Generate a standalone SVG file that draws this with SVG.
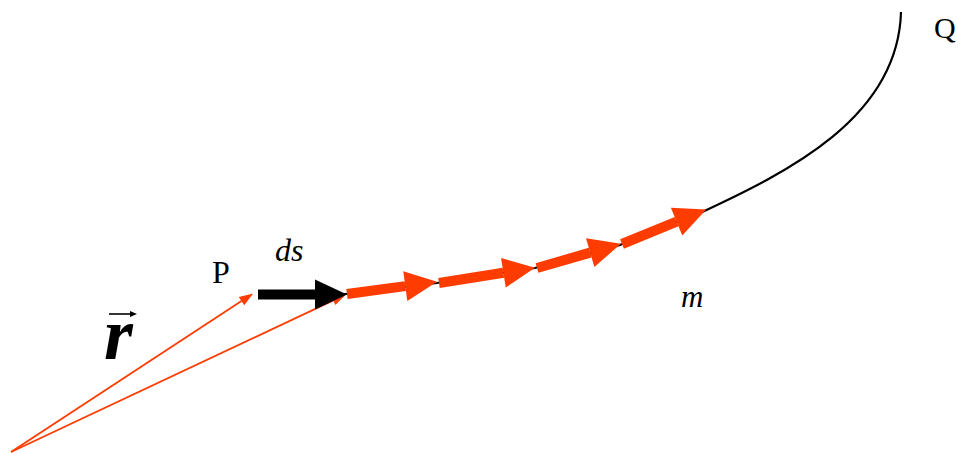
<svg xmlns="http://www.w3.org/2000/svg" width="958" height="453" viewBox="0 0 958 453">
<style>
.lbl{font-family:"Liberation Serif","Times New Roman",serif;fill:#000}
.it{font-style:italic}
.thick{stroke:#ff3c00;stroke-width:10;fill:none}
.thin{stroke:#ff3c00;stroke-width:1.8;fill:none}
</style>
<defs>
<marker id="bigRed" markerUnits="userSpaceOnUse" markerWidth="33" markerHeight="31" refX="0" refY="15" orient="auto" overflow="visible"><path d="M0,0 L32,15 L0,30 Z" fill="#ff3c00"/></marker>
<marker id="bigBlack" markerUnits="userSpaceOnUse" markerWidth="33" markerHeight="31" refX="0" refY="15" orient="auto" overflow="visible"><path d="M0,0 L32,15 L0,30 Z" fill="#000"/></marker>
<marker id="smallRed" markerUnits="userSpaceOnUse" markerWidth="15" markerHeight="11" refX="0" refY="5" orient="auto" overflow="visible"><path d="M0,0 L14,5 L0,10 Z" fill="#ff3c00"/></marker>
<marker id="tinyBlack" markerUnits="userSpaceOnUse" markerWidth="8" markerHeight="7" refX="0" refY="3" orient="auto" overflow="visible"><path d="M0,0 L7,3 L0,6 Z" fill="#000"/></marker>
</defs>
<g id="path-curve">
<path d="M258,294 L345,294 L437,283 L535,268 L620,245 L702,212" fill="none" stroke="#000" stroke-width="2"/>
<path d="M700,213 C788,172 898,118 901,12" fill="none" stroke="#000" stroke-width="2.2"/>
</g>
<g id="connectors">
<line class="thin" x1="11" y1="452" x2="241.5" y2="301.1" marker-end="url(#smallRed)"/>
<line class="thin" x1="11" y1="452" x2="333.3" y2="300.4" marker-end="url(#smallRed)"/>
<line x1="258" y1="294.5" x2="315" y2="294.5" stroke="#000" stroke-width="10" marker-end="url(#bigBlack)"/>
<line class="thick" x1="347" y1="294" x2="405.3" y2="286.1" marker-end="url(#bigRed)"/>
<line class="thick" x1="439" y1="283" x2="503.4" y2="272.8" marker-end="url(#bigRed)"/>
<line class="thick" x1="537" y1="268" x2="590.2" y2="252.6" marker-end="url(#bigRed)"/>
<line class="thick" x1="622" y1="244" x2="676.6" y2="221.6" marker-end="url(#bigRed)"/>
</g>
<g id="label-P"><text class="lbl" x="212" y="283" font-size="32">P</text></g>
<g id="label-ds"><text class="lbl it" x="275" y="261" font-size="32">ds</text></g>
<g id="label-m"><text class="lbl it" x="681" y="307" font-size="31">m</text></g>
<g id="label-Q"><text class="lbl" x="934" y="38" font-size="30">Q</text></g>
<g id="label-r">
<text class="lbl it" x="104" y="359" font-size="74" font-weight="bold">r</text>
<line x1="109" y1="314" x2="130" y2="314" stroke="#000" stroke-width="1.6" marker-end="url(#tinyBlack)"/>
</g>
</svg>
